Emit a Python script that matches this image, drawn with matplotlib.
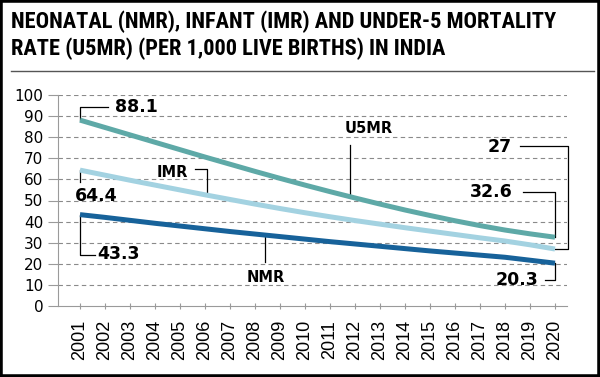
import numpy as np
import matplotlib
matplotlib.use('Agg')
import matplotlib.pyplot as plt
from matplotlib.patches import Rectangle
from matplotlib.lines import Line2D

years = list(range(2001, 2021))
u5mr = [88.1, 84.6, 81.1, 77.6, 74.1, 70.6, 67.2, 63.8, 60.5, 57.3,
        54.2, 51.2, 48.3, 45.5, 42.9, 40.4, 38.1, 36.0, 34.2, 32.6]
imr = [64.4, 62.0, 59.6, 57.3, 55.0, 52.7, 50.5, 48.3, 46.2, 44.2,
       42.3, 40.5, 38.8, 37.1, 35.5, 33.9, 32.3, 30.8, 29.0, 27.0]
nmr = [43.3, 42.0, 40.6, 39.2, 37.9, 36.6, 35.3, 34.1, 32.9, 31.7,
       30.5, 29.4, 28.3, 27.2, 26.1, 25.1, 24.1, 23.1, 21.7, 20.3]
yticks = list(range(0, 101, 10))

title1 = 'NEONATAL (NMR), INFANT (IMR) AND UNDER-5 MORTALITY'
title2 = 'RATE (U5MR) (PER 1,000 LIVE BIRTHS) IN INDIA'

c_u5 = '#5ea9a7'
c_im = '#a3d2e1'
c_nm = '#17629a'

W, H = 600, 377
fig = plt.figure(figsize=(W / 100, H / 100), dpi=100)
ax = fig.add_axes([58 / W, 1 - 306 / H, 509 / W, 211 / H])
ax.set_xlim(2000.12, 2020.48)
ax.set_ylim(0, 100)

# grid
for y in yticks[1:]:
    ax.axhline(y, color='#8a8a8a', lw=0.8, ls=(0, (4, 3)), zorder=1)

ax.plot(years, u5mr, color=c_u5, lw=3.6, solid_capstyle='butt', zorder=3)
ax.plot(years, imr, color=c_im, lw=3.6, solid_capstyle='butt', zorder=3)
ax.plot(years, nmr, color=c_nm, lw=3.6, solid_capstyle='butt', zorder=3)

for s in ['top', 'right']:
    ax.spines[s].set_visible(False)
for s in ['left', 'bottom']:
    ax.spines[s].set_color('#9a9a9a')
    ax.spines[s].set_linewidth(0.8)

ax.set_yticks(yticks)
ax.set_yticklabels([str(v) for v in yticks], fontsize=11, fontfamily='DejaVu Sans')
ax.tick_params(axis='y', length=7, width=0.8, color='#9a9a9a', pad=3.5)

ax.set_xticks(years)
ax.set_xticklabels([str(v) for v in years], rotation=90, fontsize=13,
                   fontfamily='Liberation Sans')
ax.tick_params(axis='x', direction='inout', length=5, width=0.8, color='#9a9a9a', pad=22)
for lbl in ax.get_xticklabels():
    lbl.set_va('center')

# leader lines + value labels
def leader(xs, ys):
    ax.plot(xs, ys, color='black', lw=0.9, clip_on=False, zorder=2)

vfont = dict(fontsize=12.5, fontweight='bold', fontfamily='DejaVu Sans', va='center')
leader([2001, 2001, 2002.1], [u5mr[0], 94.3, 94.3])
ax.text(2002.4, 94.3, f'{u5mr[0]}', ha='left', **vfont)
leader([2001, 2001], [imr[0], 58.8])
ax.text(2000.8, 52.1, f'{imr[0]}', ha='left', **vfont)
leader([2001, 2001, 2001.6], [nmr[0], 24.2, 24.2])
ax.text(2001.7, 24.6, f'{nmr[0]}', ha='left', **vfont)
leader([2020, 2020, 2019.6], [nmr[-1], 12.3, 12.3])
ax.text(2019.32, 12.3, f'{nmr[-1]}', ha='right', **vfont)
leader([2020, 2020.52, 2020.52, 2018.6], [imr[-1], imr[-1], 75.8, 75.8])
ax.text(2018.28, 75.4, f'{imr[-1]:g}', ha='right', **vfont)
leader([2020, 2020, 2018.7], [u5mr[-1], 54, 54])
ax.text(2018.3, 54.0, f'{u5mr[-1]}', ha='right', **vfont)

# series names
sfont = dict(fontsize=10.5, fontweight='bold', fontfamily='DejaVu Sans', va='center')
leader([2011.8, 2011.8], [76.3, np.interp(2011.8, years, u5mr)])
ax.text(2012.56, 83.9, 'U5MR', ha='center', **sfont)
leader([2005.6, 2006.08, 2006.08], [65, 65, np.interp(2006.08, years, imr)])
ax.text(2004.08, 63.5, 'IMR', ha='left', **sfont)
leader([2008.4, 2008.4], [np.interp(2008.4, years, nmr), 20.8])
ax.text(2008.44, 13.7, 'NMR', ha='center', **sfont)

# title, sized so the first line spans ~546 px
tfont = dict(fontsize=14, fontweight='bold', fontstretch='condensed',
             fontfamily=['Roboto Condensed', 'DejaVu Sans Condensed', 'Liberation Sans'],
             va='baseline', ha='left')
t1 = fig.text(11 / W, 1 - 28 / H, title1, **tfont)
t2 = fig.text(11 / W, 1 - 55 / H, title2, **tfont)
renderer = fig.canvas.get_renderer()
w = t1.get_window_extent(renderer).width
size = 14 * 546 / w
t1.set_fontsize(size)
t2.set_fontsize(size)
fig.add_artist(Line2D([11 / W, 594 / W], [1 - 71 / H] * 2, color='#555555', lw=1.0))

fig.add_artist(Rectangle((0, 0), 1, 1, transform=fig.transFigure, fill=False,
                         ec='black', lw=4))

fig.savefig('out.png', dpi=100)
